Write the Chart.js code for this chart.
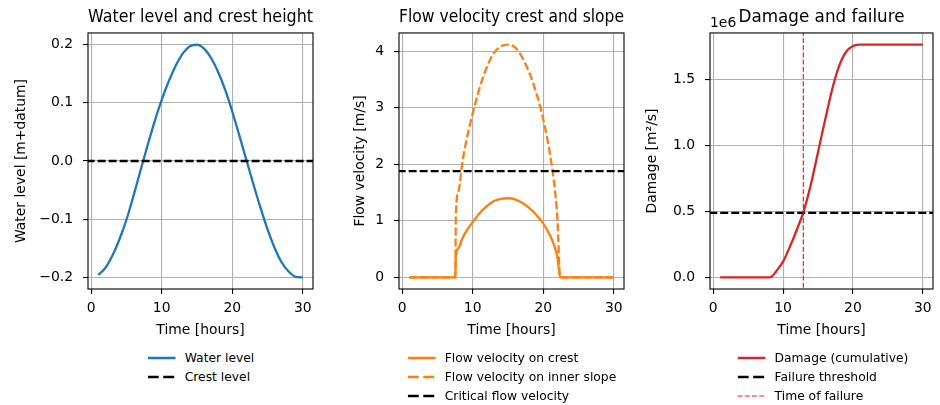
<!DOCTYPE html>
<html>
<head>
<meta charset="utf-8">
<title>Overtopping</title>
<script src="https://cdn.jsdelivr.net/npm/chart.js"></script>
<style>
  body {
    margin: 0;
    width: 940px;
    height: 405px;
    background: #ffffff;
    position: relative;
    overflow: hidden;
    font-family: "DejaVu Sans", sans-serif;
  }
  .panel { position: absolute; top: 0; }
  .legend {
    position: absolute;
    top: 348px;
    transform: translateX(-50%);
    display: flex;
    flex-direction: column;
    font-size: 12.3px;
    color: #000;
  }
  .legend .row { display: flex; align-items: center; height: 19.4px; white-space: nowrap; }
  .legend svg { margin-right: 9px; }
</style>
</head>
<body>
<canvas class="panel" id="c1" width="320" height="345" style="left:0px"></canvas>
<canvas class="panel" id="c2" width="320" height="345" style="left:311px"></canvas>
<canvas class="panel" id="c3" width="318" height="345" style="left:622px"></canvas>
<div class="legend" id="l1" style="left:201px"></div>
<div class="legend" id="l2" style="left:512px"></div>
<div class="legend" id="l3" style="left:823px"></div>
<script>
// time axis (hours) and series
const hours = [1, 2, 3, 4, 5, 6, 7, 8, 9, 10, 11, 12, 13, 14, 15,
               16, 17, 18, 19, 20, 21, 22, 23, 24, 25, 26, 27, 28, 29, 30];
const waterLevel = [-0.196, -0.184, -0.163, -0.135, -0.101, -0.060, -0.016, 0.027, 0.068, 0.105,
                    0.137, 0.164, 0.185, 0.197, 0.200, 0.193, 0.177, 0.153, 0.122, 0.085,
                    0.044, 0.002, -0.040, -0.080, -0.117, -0.149, -0.174, -0.190, -0.199, -0.200];
const crestLevel = 0.0;

const velHours = [1, 7.55, 7.6, 8, 8.5, 9, 10, 11, 12, 13, 14, 15, 16, 17, 18, 19, 20, 21, 21.5, 22, 22.4, 30];
const crestVelocity = [0, 0, 0.36, 0.52, 0.68, 0.80, 0.98, 1.14, 1.26, 1.35, 1.39, 1.40, 1.38, 1.32, 1.23, 1.11, 0.95, 0.73, 0.58, 0.36, 0, 0];
const slopeVelocity = [0, 0, 1.06, 1.53, 2.00, 2.36, 2.90, 3.36, 3.72, 3.97, 4.09, 4.12, 4.07, 3.90, 3.63, 3.27, 2.80, 2.15, 1.71, 1.06, 0, 0];
const criticalVelocity = 1.88;

const damageHours = [1, 8, 8.5, 9, 10, 11, 12, 13, 14, 15, 16, 17, 18, 19, 20, 20.5, 21, 30];
const damage = [0, 0, 12000, 45000, 119000, 235000, 365000, 510000, 710000, 950000,
                1190000, 1420000, 1600000, 1710000, 1755000, 1763000, 1766000, 1766000];
const failureThreshold = 490000;
const failureTime = 12.9;

// tick values
const timeTicks = [0, 10, 20, 30];
const levelTicks = [-0.2, -0.1, 0.0, 0.1, 0.2];
const velocityTicks = [0, 1, 2, 3, 4];
const damageTicks = [0, 500000, 1000000, 1500000];

const FONT = "DejaVu Sans";
const DASH = [8, 3];
const LEGEND_DASH = "11 4.5";

const xy = (xs, ys) => xs.map((x, i) => ({ x: x, y: ys[i] }));
const hline = (v) => [{ x: -10, y: v }, { x: 45, y: v }];
const vline = (t) => [{ x: t, y: -1e9 }, { x: t, y: 1e9 }];
const minus = (s) => s.replace("-", "\u2212");

// black box round the plot area, drawn over the lines
const frame = {
  id: "frame",
  afterDatasetsDraw(chart) {
    const a = chart.chartArea;
    const ctx = chart.ctx;
    ctx.save();
    ctx.strokeStyle = "#000";
    ctx.lineWidth = 1.1;
    ctx.strokeRect(a.left, a.top, a.right - a.left, a.bottom - a.top);
    ctx.restore();
  }
};

// scale factor text above the damage axis
const offsetText = {
  id: "offsetText",
  afterDraw(chart) {
    const a = chart.chartArea;
    const ctx = chart.ctx;
    ctx.save();
    ctx.fillStyle = "#000";
    ctx.font = "13.9px '" + FONT + "'";
    ctx.textAlign = "left";
    ctx.textBaseline = "alphabetic";
    ctx.fillText("1e6", a.left, a.top - 6);
    ctx.restore();
  }
};

function makeChart(id, title, datasets, y, plugins) {
  datasets.forEach((d, i) => {
    d.order = -i;
    d.pointRadius = 0;
    d.clip = 0;
    d.fill = false;
    if (d.borderWidth === undefined) d.borderWidth = 2.3;
    if (d.smooth) d.cubicInterpolationMode = "monotone";
  });
  return new Chart(document.getElementById(id), {
    type: "line",
    data: { datasets: datasets },
    plugins: [frame].concat(plugins || []),
    options: {
      responsive: false,
      animation: false,
      layout: { padding: { left: 0, right: 7, top: 0, bottom: 6 } },
      plugins: {
        legend: { display: false },
        tooltip: { enabled: false },
        title: {
          display: true,
          text: title,
          fullSize: false,
          color: "#000",
          font: { family: FONT, size: 16.8, weight: "normal" },
          padding: { top: 8, bottom: 4.8 }
        }
      },
      scales: {
        x: {
          type: "linear",
          min: -0.45,
          max: 31.45,
          afterBuildTicks: (s) => { s.ticks = timeTicks.map((v) => ({ value: v })); },
          afterFit: (s) => { s.height = 50; },
          border: { display: false },
          grid: { color: "#b0b0b0", lineWidth: 1.1, tickColor: "#000", tickLength: 5, tickWidth: 1.1 },
          ticks: {
            color: "#000",
            font: { family: FONT, size: 13.9 },
            padding: 6,
            maxRotation: 0,
            autoSkip: false,
            callback: (v) => String(v)
          },
          title: {
            display: true,
            text: "Time [hours]",
            color: "#000",
            font: { family: FONT, size: 13.9 },
            padding: { top: 0, bottom: 0 }
          }
        },
        y: {
          type: "linear",
          min: y.min,
          max: y.max,
          afterBuildTicks: (s) => { s.ticks = y.ticks.map((v) => ({ value: v })); },
          afterFit: (s) => { s.width = 88; },
          border: { display: false },
          grid: { color: "#b0b0b0", lineWidth: 1.1, tickColor: "#000", tickLength: 5, tickWidth: 1.1 },
          ticks: {
            color: "#000",
            font: { family: FONT, size: 13.9 },
            padding: 10,
            autoSkip: false,
            callback: y.format
          },
          title: {
            display: true,
            text: y.title,
            color: "#000",
            font: { family: FONT, size: 13.9 },
            padding: { top: y.titlePad, bottom: 0 }
          }
        }
      }
    }
  });
}

function buildLegend(chart, id) {
  const box = document.getElementById(id);
  chart.data.datasets.forEach((d) => {
    const row = document.createElement("div");
    row.className = "row";
    const dash = d.borderDash ? (d.borderWidth < 1.5 ? "5 2.2" : LEGEND_DASH) : "none";
    row.innerHTML =
      '<svg width="28" height="10"><line x1="0" y1="5" x2="28" y2="5" stroke="' + d.borderColor +
      '" stroke-width="' + d.borderWidth + '" stroke-dasharray="' + dash + '"/></svg>';
    const label = document.createElement("span");
    label.textContent = d.label;
    row.appendChild(label);
    box.appendChild(row);
  });
}

const levelChart = makeChart("c1", "Water level and crest height", [
  { label: "Water level", data: xy(hours, waterLevel), borderColor: "#1f77b4", smooth: true },
  { label: "Crest level", data: hline(crestLevel), borderColor: "#000000", borderDash: DASH }
], {
  min: -0.22, max: 0.22, ticks: levelTicks, title: "Water level [m+datum]", titlePad: 12.7,
  format: (v) => minus(v.toFixed(1))
});

const velocityChart = makeChart("c2", "Flow velocity crest and slope", [
  { label: "Flow velocity on crest", data: xy(velHours, crestVelocity), borderColor: "#ff7f0e", smooth: true },
  { label: "Flow velocity on inner slope", data: xy(velHours, slopeVelocity), borderColor: "#ff7f0e", borderDash: DASH, smooth: true },
  { label: "Critical flow velocity", data: hline(criticalVelocity), borderColor: "#000000", borderDash: DASH }
], {
  min: -0.206, max: 4.326, ticks: velocityTicks, title: "Flow velocity [m/s]", titlePad: 40.7,
  format: (v) => String(v)
});

const damageChart = makeChart("c3", "Damage and failure", [
  { label: "Damage (cumulative)", data: xy(damageHours, damage), borderColor: "#d62728", smooth: true },
  { label: "Failure threshold", data: hline(failureThreshold), borderColor: "#000000", borderDash: DASH },
  { label: "Time of failure", data: vline(failureTime), borderColor: "#f02020", borderDash: [5, 2.2], borderWidth: 1.2 }
], {
  min: -88300, max: 1854300, ticks: damageTicks, title: "Damage [m\u00b2/s]", titlePad: 22.2,
  format: (v) => (v / 1e6).toFixed(1)
}, [offsetText]);

buildLegend(levelChart, "l1");
buildLegend(velocityChart, "l2");
buildLegend(damageChart, "l3");
</script>
</body>
</html>
